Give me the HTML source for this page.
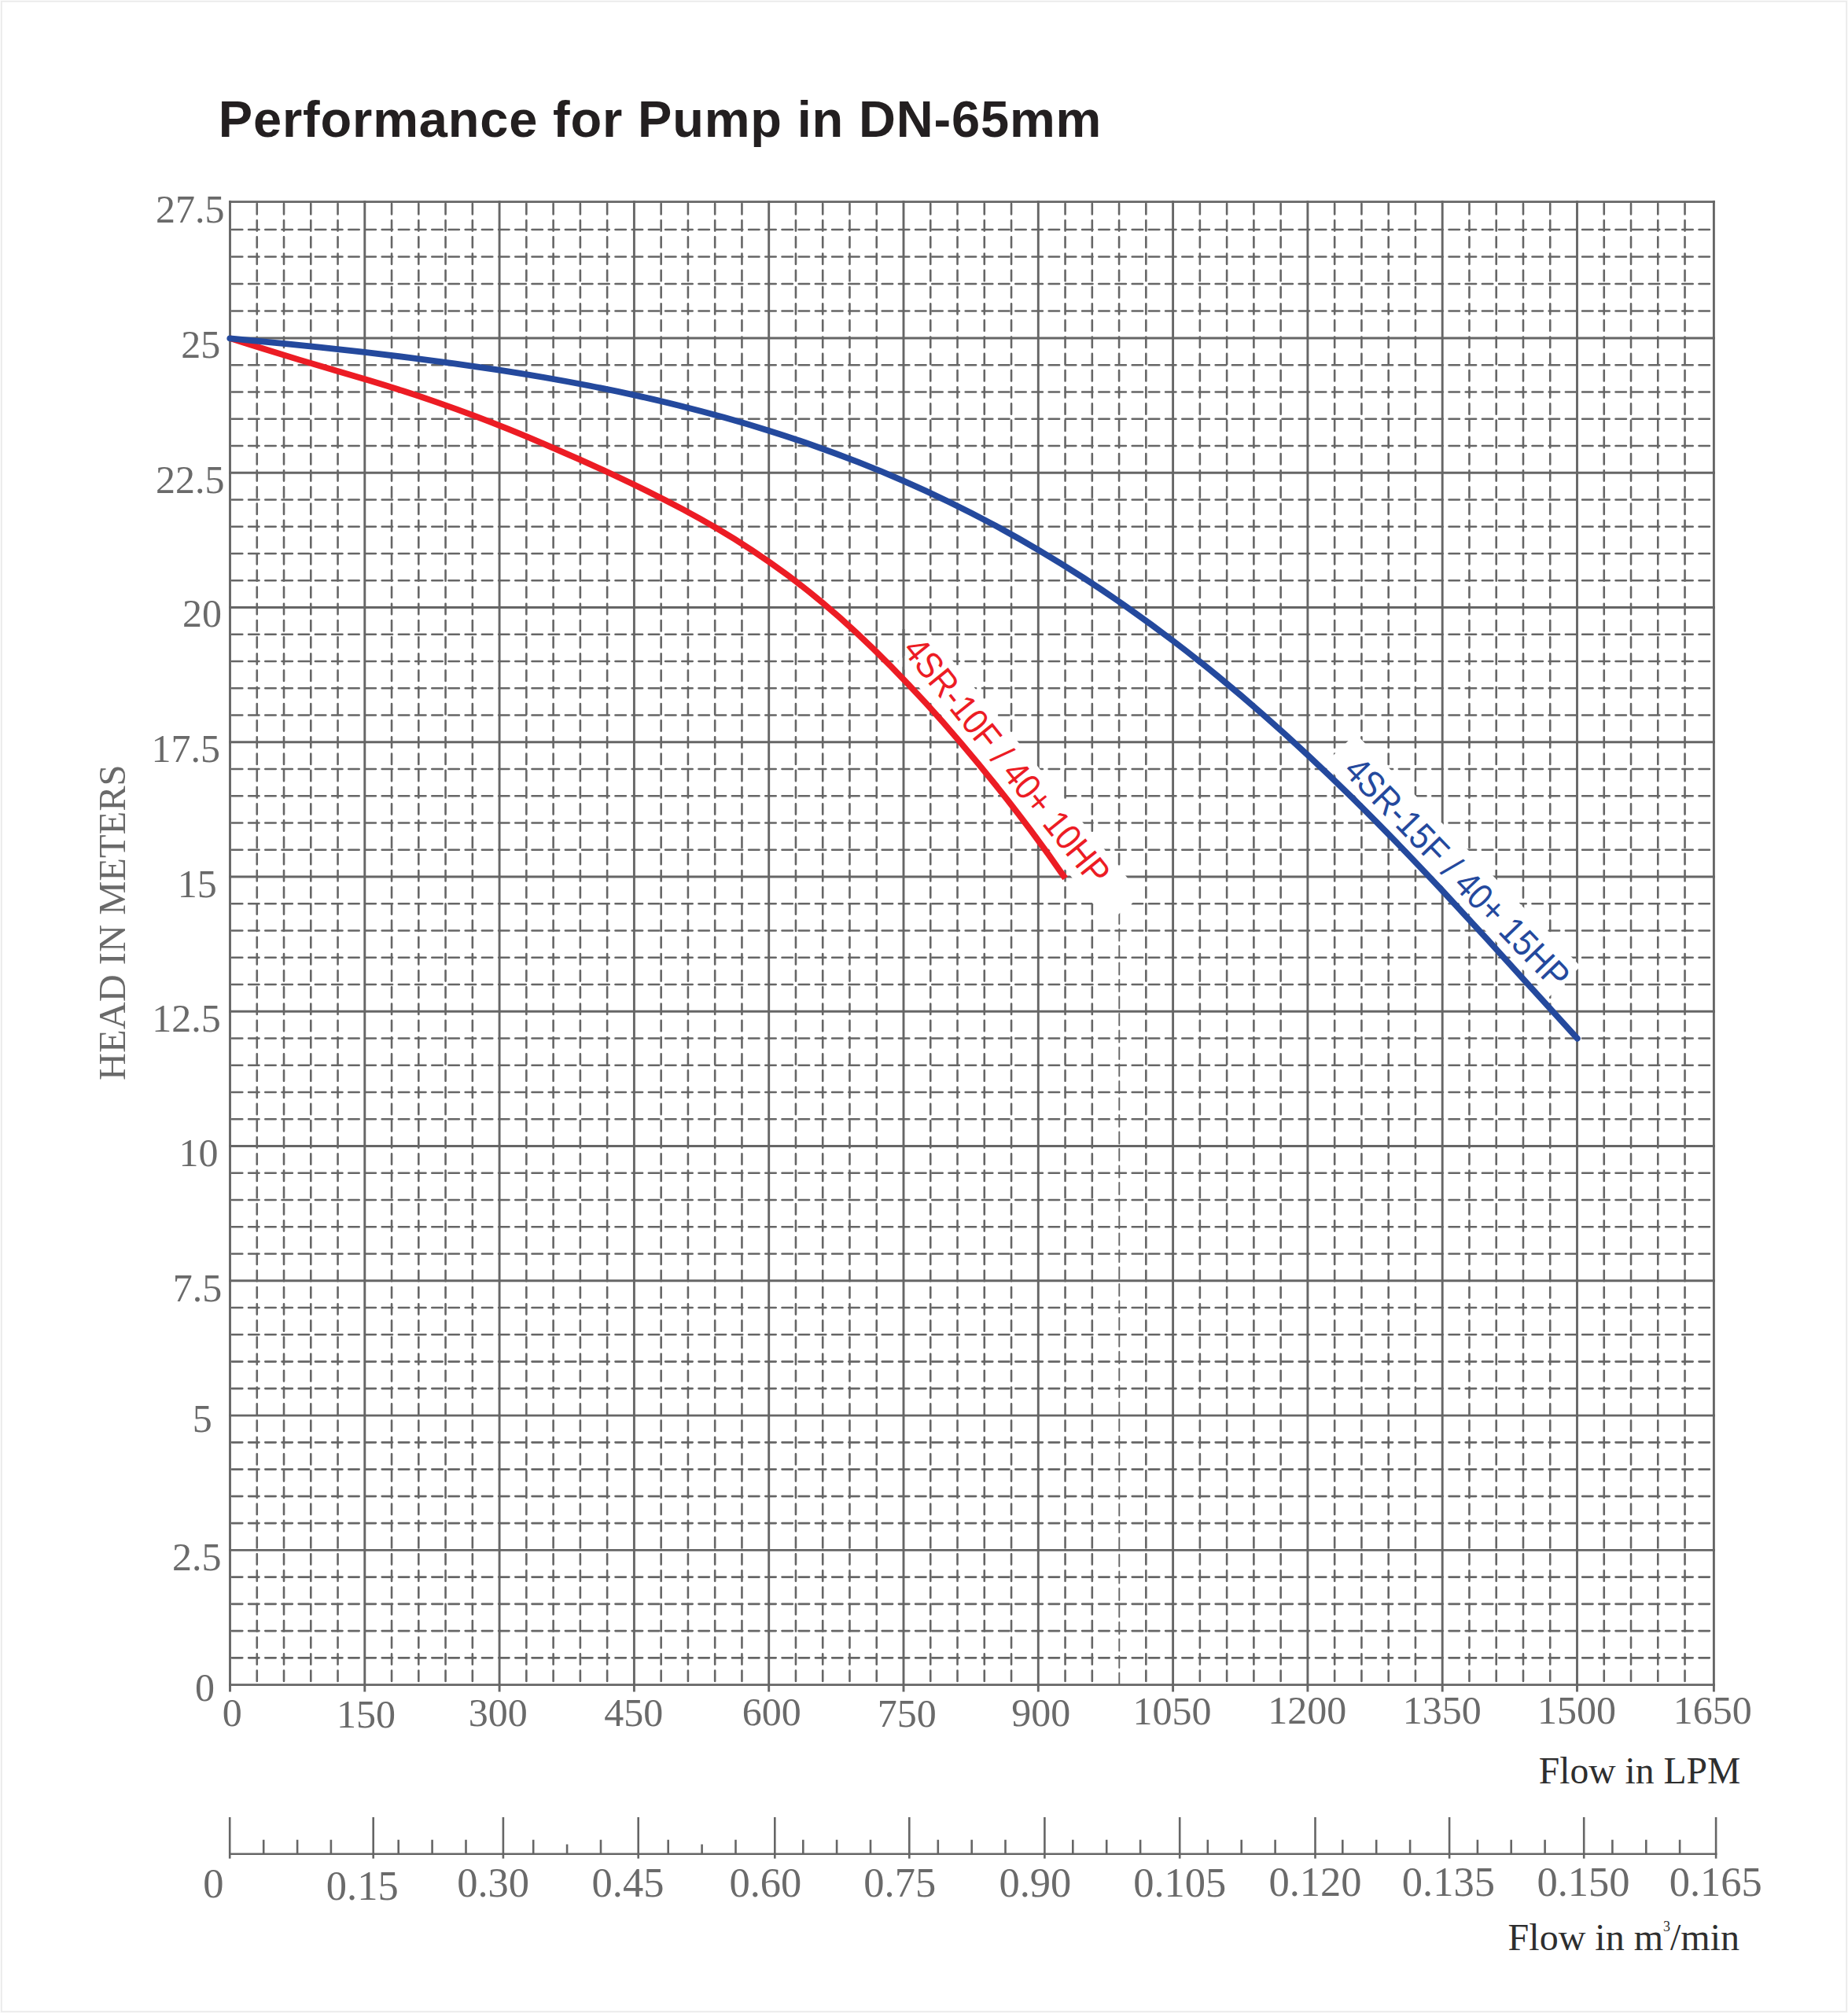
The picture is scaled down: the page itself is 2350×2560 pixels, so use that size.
<!DOCTYPE html>
<html><head><meta charset="utf-8"><title>Performance for Pump in DN-65mm</title>
<style>html,body{margin:0;padding:0;background:#fff}svg{display:block}</style></head>
<body>
<svg xmlns="http://www.w3.org/2000/svg" width="2350" height="2560" viewBox="0 0 2350 2560">
<rect x="0" y="0" width="2350" height="2560" fill="#fbfbfb"/>
<rect x="1.9" y="1.8" width="2346.2" height="2556.4" fill="#ffffff" stroke="#ebebeb" stroke-width="1.8"/>
<text id="title" x="277.8" y="173.8" font-family="Liberation Sans, sans-serif" font-weight="700" font-size="65" fill="#231f20" textLength="1122.5" lengthAdjust="spacing">Performance for Pump in DN-65mm</text>
<g stroke="#666666" stroke-width="2.6" stroke-dasharray="13.4 7.8" stroke-linecap="round" fill="none">
<path d="M326.76 259.00V2142.60"/>
<path d="M361.02 259.00V2142.60"/>
<path d="M395.28 259.00V2142.60"/>
<path d="M429.54 259.00V2142.60"/>
<path d="M498.06 259.00V2142.60"/>
<path d="M532.32 259.00V2142.60"/>
<path d="M566.58 259.00V2142.60"/>
<path d="M600.84 259.00V2142.60"/>
<path d="M669.36 259.00V2142.60"/>
<path d="M703.62 259.00V2142.60"/>
<path d="M737.88 259.00V2142.60"/>
<path d="M772.14 259.00V2142.60"/>
<path d="M840.66 259.00V2142.60"/>
<path d="M874.92 259.00V2142.60"/>
<path d="M909.18 259.00V2142.60"/>
<path d="M943.44 259.00V2142.60"/>
<path d="M1011.96 259.00V2142.60"/>
<path d="M1046.22 259.00V2142.60"/>
<path d="M1080.48 259.00V2142.60"/>
<path d="M1114.74 259.00V2142.60"/>
<path d="M1183.26 259.00V2142.60"/>
<path d="M1217.52 259.00V2142.60"/>
<path d="M1251.78 259.00V2142.60"/>
<path d="M1286.04 259.00V2142.60"/>
<path d="M1354.56 259.00V2142.60"/>
<path d="M1388.82 259.00V2142.60"/>
<path d="M1423.08 259.00V1110"/>
<path d="M1457.34 259.00V2142.60"/>
<path d="M1525.86 259.00V2142.60"/>
<path d="M1560.12 259.00V2142.60"/>
<path d="M1594.38 259.00V2142.60"/>
<path d="M1628.64 259.00V2142.60"/>
<path d="M1697.16 259.00V2142.60"/>
<path d="M1731.42 259.00V2142.60"/>
<path d="M1765.68 259.00V2142.60"/>
<path d="M1799.94 259.00V2142.60"/>
<path d="M1868.46 259.00V2142.60"/>
<path d="M1902.72 259.00V2142.60"/>
<path d="M1936.98 259.00V2142.60"/>
<path d="M1971.24 259.00V2142.60"/>
<path d="M2039.76 259.00V2142.60"/>
<path d="M2074.02 259.00V2142.60"/>
<path d="M2108.28 259.00V2142.60"/>
<path d="M2142.54 259.00V2142.60"/>
<path d="M294.90 395.50H2179.40"/>
<path d="M294.90 361.00H2179.40"/>
<path d="M294.90 326.50H2179.40"/>
<path d="M294.90 292.00H2179.40"/>
<path d="M294.90 464.25H2179.40"/>
<path d="M294.90 498.50H2179.40"/>
<path d="M294.90 532.76H2179.40"/>
<path d="M294.90 567.01H2179.40"/>
<path d="M294.90 635.51H2179.40"/>
<path d="M294.90 669.76H2179.40"/>
<path d="M294.90 704.02H2179.40"/>
<path d="M294.90 738.27H2179.40"/>
<path d="M294.90 806.77H2179.40"/>
<path d="M294.90 841.02H2179.40"/>
<path d="M294.90 875.28H2179.40"/>
<path d="M294.90 909.53H2179.40"/>
<path d="M294.90 978.03H2179.40"/>
<path d="M294.90 1012.28H2179.40"/>
<path d="M294.90 1046.54H2179.40"/>
<path d="M294.90 1080.79H2179.40"/>
<path d="M294.90 1149.29H2179.40"/>
<path d="M294.90 1183.54H2179.40"/>
<path d="M294.90 1217.80H2179.40"/>
<path d="M294.90 1252.05H2179.40"/>
<path d="M294.90 1320.55H2179.40"/>
<path d="M294.90 1354.80H2179.40"/>
<path d="M294.90 1389.06H2179.40"/>
<path d="M294.90 1423.31H2179.40"/>
<path d="M294.90 1491.81H2179.40"/>
<path d="M294.90 1526.06H2179.40"/>
<path d="M294.90 1560.32H2179.40"/>
<path d="M294.90 1594.57H2179.40"/>
<path d="M294.90 1663.07H2179.40"/>
<path d="M294.90 1697.32H2179.40"/>
<path d="M294.90 1731.58H2179.40"/>
<path d="M294.90 1765.83H2179.40"/>
<path d="M294.90 1834.33H2179.40"/>
<path d="M294.90 1868.58H2179.40"/>
<path d="M294.90 1902.84H2179.40"/>
<path d="M294.90 1937.09H2179.40"/>
<path d="M294.90 2005.59H2179.40"/>
<path d="M294.90 2039.84H2179.40"/>
<path d="M294.90 2074.10H2179.40"/>
<path d="M294.90 2108.35H2179.40"/>
</g>
<path d="M1423.3 1160V2142.60" stroke="#666666" stroke-width="1.9" stroke-dasharray="15 6.5" stroke-linecap="round" fill="none"/>
<g stroke="#666666" stroke-width="2.9" fill="none" stroke-linecap="butt">
<path d="M292.50 255.15V2151.60"/>
<path d="M463.80 255.15V2151.60"/>
<path d="M635.10 255.15V2151.60"/>
<path d="M806.40 255.15V2151.60"/>
<path d="M977.70 255.15V2151.60"/>
<path d="M1149.00 255.15V2151.60"/>
<path d="M1320.30 255.15V2151.60"/>
<path d="M1491.60 255.15V2151.60"/>
<path d="M1662.90 255.15V2151.60"/>
<path d="M1834.20 255.15V2151.60"/>
<path d="M2005.50 255.15V2151.60"/>
<path d="M2179.40 255.15V2151.60"/>
<path d="M291.05 256.60H2180.85"/>
<path d="M291.05 430.00H2180.85"/>
<path d="M291.05 601.26H2180.85"/>
<path d="M291.05 772.52H2180.85"/>
<path d="M291.05 943.78H2180.85"/>
<path d="M291.05 1115.04H2180.85"/>
<path d="M291.05 1286.30H2180.85"/>
<path d="M291.05 1457.56H2180.85"/>
<path d="M291.05 1628.82H2180.85"/>
<path d="M291.05 1800.08H2180.85"/>
<path d="M291.05 1971.34H2180.85"/>
<path d="M291.05 2142.60H2180.85"/>
</g>
<rect transform="translate(1256.55 963.6) rotate(51.2)" x="-167.4" y="-42.2" width="426.4" height="54.7" fill="#ffffff"/>
<rect transform="translate(1828.85 1107.85) rotate(46.0)" x="-198.6" y="-46.0" width="411.6" height="55.5" fill="#ffffff"/>
<path d="M1149.00 800V872" stroke="#666666" stroke-width="2.9" fill="none"/>
<path id="redc" d="M292.30 430.14C307.05 434.77 321.81 439.44 336.56 444.05C351.32 448.65 366.07 453.19 380.82 457.63C395.58 462.07 410.33 466.43 425.09 470.76C439.84 475.09 454.60 479.42 469.35 483.86C484.10 488.29 498.86 492.84 513.61 497.56C528.37 502.29 543.12 507.21 557.88 512.34C572.63 517.47 587.38 522.82 602.14 528.40C616.89 533.97 631.65 539.75 646.40 545.72C661.15 551.68 675.91 557.81 690.66 564.09C705.42 570.37 720.17 576.78 734.92 583.34C749.68 589.90 764.43 596.60 779.19 603.48C793.94 610.36 808.70 617.42 823.45 624.71C838.20 632.01 852.96 639.54 867.71 647.41C882.47 655.28 897.22 663.49 911.97 672.16C926.73 680.82 941.48 689.96 956.24 699.68C970.99 709.40 985.75 719.70 1000.50 730.66C1015.25 741.63 1030.01 753.25 1044.76 765.56C1059.52 777.88 1074.27 790.89 1089.02 804.58C1103.78 818.27 1118.53 832.64 1133.29 847.65C1148.04 862.66 1162.80 878.29 1177.55 894.48C1192.30 910.67 1207.06 927.42 1221.81 944.70C1236.57 961.99 1251.32 979.82 1266.07 998.25C1280.83 1016.68 1295.58 1035.70 1310.34 1055.44C1325.09 1075.19 1339.85 1095.65 1354.60 1117.01" fill="none" stroke="#ec1c24" stroke-width="7.8" stroke-linecap="butt"/>
<path id="bluec" d="M292.30 430.31C311.34 432.13 330.38 433.97 349.42 435.86C368.46 437.76 387.49 439.69 406.53 441.70C425.57 443.71 444.61 445.78 463.65 447.95C482.69 450.12 501.73 452.38 520.77 454.76C539.81 457.13 558.84 459.63 577.88 462.26C596.92 464.90 615.96 467.67 635.00 470.62C654.04 473.56 673.08 476.67 692.12 479.98C711.16 483.28 730.19 486.78 749.23 490.51C768.27 494.23 787.31 498.17 806.35 502.37C825.39 506.57 844.43 511.01 863.47 515.74C882.51 520.47 901.54 525.48 920.58 530.80C939.62 536.12 958.66 541.75 977.70 547.72C996.74 553.69 1015.78 560.01 1034.82 566.70C1053.86 573.39 1072.89 580.46 1091.93 587.93C1110.97 595.41 1130.01 603.29 1149.05 611.62C1168.09 619.94 1187.13 628.71 1206.17 637.96C1225.21 647.20 1244.24 656.92 1263.28 667.14C1282.32 677.36 1301.36 688.09 1320.40 699.33C1339.44 710.58 1358.48 722.34 1377.52 734.65C1396.56 746.95 1415.59 759.80 1434.63 773.19C1453.67 786.58 1472.71 800.52 1491.75 815.01C1510.79 829.50 1529.83 844.55 1548.87 860.14C1567.91 875.74 1586.94 891.89 1605.98 908.58C1625.02 925.27 1644.06 942.51 1663.10 960.28C1682.14 978.05 1701.18 996.35 1720.22 1015.14C1739.26 1033.92 1758.29 1053.20 1777.33 1072.87C1796.37 1092.55 1815.41 1112.64 1834.45 1133.03C1853.49 1153.42 1872.53 1174.11 1891.57 1194.96C1910.61 1215.81 1929.64 1236.82 1948.68 1257.83C1967.72 1278.83 1986.76 1299.83 2005.80 1320.61" fill="none" stroke="#24499d" stroke-width="7.8" stroke-linecap="round"/>
<text transform="translate(1256.55 963.6) rotate(51.2) scale(0.8956 1)" x="-195.96" y="0" font-family="Liberation Sans, sans-serif" font-size="46.5" fill="#ec1c24">4SR-10F / 40+ 10HP</text>
<text transform="translate(1828.85 1107.85) rotate(46.0) scale(0.8956 1)" x="-195.96" y="0" font-family="Liberation Sans, sans-serif" font-size="46.5" fill="#24499d">4SR-15F / 40+ 15HP</text>
<text id="y27_5" x="241.65" y="282.60" font-family="Liberation Serif, serif" font-size="50" text-anchor="middle" fill="#6a6a6a">27.5</text>
<text id="y25" x="255.25" y="454.80" font-family="Liberation Serif, serif" font-size="50" text-anchor="middle" fill="#6a6a6a">25</text>
<text id="y22_5" x="241.65" y="626.80" font-family="Liberation Serif, serif" font-size="50" text-anchor="middle" fill="#6a6a6a">22.5</text>
<text id="y20" x="257.10" y="797.20" font-family="Liberation Serif, serif" font-size="50" text-anchor="middle" fill="#6a6a6a">20</text>
<text id="y17_5" x="236.15" y="969.20" font-family="Liberation Serif, serif" font-size="50" text-anchor="middle" fill="#6a6a6a">17.5</text>
<text id="y15" x="250.85" y="1140.80" font-family="Liberation Serif, serif" font-size="50" text-anchor="middle" fill="#6a6a6a">15</text>
<text id="y12_5" x="237.00" y="1311.60" font-family="Liberation Serif, serif" font-size="50" text-anchor="middle" fill="#6a6a6a">12.5</text>
<text id="y10" x="252.45" y="1483.00" font-family="Liberation Serif, serif" font-size="50" text-anchor="middle" fill="#6a6a6a">10</text>
<text id="y7_5" x="250.95" y="1654.60" font-family="Liberation Serif, serif" font-size="50" text-anchor="middle" fill="#6a6a6a">7.5</text>
<text id="y5" x="257.30" y="1820.80" font-family="Liberation Serif, serif" font-size="50" text-anchor="middle" fill="#6a6a6a">5</text>
<text id="y2_5" x="250.15" y="1996.60" font-family="Liberation Serif, serif" font-size="50" text-anchor="middle" fill="#6a6a6a">2.5</text>
<text id="y0" x="260.60" y="2162.80" font-family="Liberation Serif, serif" font-size="50" text-anchor="middle" fill="#6a6a6a">0</text>
<text id="x0" x="295.20" y="2194.60" font-family="Liberation Serif, serif" font-size="50" text-anchor="middle" fill="#6a6a6a">0</text>
<text id="x150" x="465.60" y="2197.00" font-family="Liberation Serif, serif" font-size="50" text-anchor="middle" fill="#6a6a6a">150</text>
<text id="x300" x="633.30" y="2194.60" font-family="Liberation Serif, serif" font-size="50" text-anchor="middle" fill="#6a6a6a">300</text>
<text id="x450" x="805.80" y="2194.60" font-family="Liberation Serif, serif" font-size="50" text-anchor="middle" fill="#6a6a6a">450</text>
<text id="x600" x="981.20" y="2194.00" font-family="Liberation Serif, serif" font-size="50" text-anchor="middle" fill="#6a6a6a">600</text>
<text id="x750" x="1153.20" y="2195.60" font-family="Liberation Serif, serif" font-size="50" text-anchor="middle" fill="#6a6a6a">750</text>
<text id="x900" x="1323.70" y="2194.60" font-family="Liberation Serif, serif" font-size="50" text-anchor="middle" fill="#6a6a6a">900</text>
<text id="x1050" x="1490.60" y="2192.60" font-family="Liberation Serif, serif" font-size="50" text-anchor="middle" fill="#6a6a6a">1050</text>
<text id="x1200" x="1662.30" y="2192.00" font-family="Liberation Serif, serif" font-size="50" text-anchor="middle" fill="#6a6a6a">1200</text>
<text id="x1350" x="1833.70" y="2192.00" font-family="Liberation Serif, serif" font-size="50" text-anchor="middle" fill="#6a6a6a">1350</text>
<text id="x1500" x="2005.10" y="2192.00" font-family="Liberation Serif, serif" font-size="50" text-anchor="middle" fill="#6a6a6a">1500</text>
<text id="x1650" x="2177.80" y="2192.00" font-family="Liberation Serif, serif" font-size="50" text-anchor="middle" fill="#6a6a6a">1650</text>
<text id="flowlpm" x="2085.10" y="2267.80" font-family="Liberation Serif, serif" font-size="47.6" text-anchor="middle" fill="#2e2e2e">Flow in LPM</text>
<g stroke="#666666" stroke-width="2.6" fill="none">
<path d="M291 2357.8H2183.4"/>
<path d="M292.2 2311V2363.6"/>
<path d="M474.7 2311V2363.6"/>
<path d="M639.9 2311V2363.6"/>
<path d="M811.7 2311V2363.6"/>
<path d="M985.3 2311V2363.6"/>
<path d="M1156.3 2311V2363.6"/>
<path d="M1328.4 2311V2363.6"/>
<path d="M1500.2 2311V2363.6"/>
<path d="M1672.5 2311V2363.6"/>
<path d="M1843.1 2311V2363.6"/>
<path d="M2014.2 2311V2363.6"/>
<path d="M2182.1 2311V2363.6"/>
<path d="M335.2 2339.7V2357.8"/>
<path d="M378.1 2339.7V2357.8"/>
<path d="M420.9 2339.7V2357.8"/>
<path d="M506.7 2339.7V2357.8"/>
<path d="M549.6 2339.7V2357.8"/>
<path d="M592.5 2339.7V2357.8"/>
<path d="M678.2 2339.7V2357.8"/>
<path d="M721.1 2345.5V2357.8"/>
<path d="M764.0 2339.7V2357.8"/>
<path d="M849.7 2339.7V2357.8"/>
<path d="M892.6 2345.5V2357.8"/>
<path d="M935.5 2339.7V2357.8"/>
<path d="M1021.3 2339.7V2357.8"/>
<path d="M1064.1 2339.7V2357.8"/>
<path d="M1107.0 2339.7V2357.8"/>
<path d="M1192.8 2339.7V2357.8"/>
<path d="M1235.7 2339.7V2357.8"/>
<path d="M1278.5 2339.7V2357.8"/>
<path d="M1364.3 2339.7V2357.8"/>
<path d="M1407.2 2339.7V2357.8"/>
<path d="M1450.1 2339.7V2357.8"/>
<path d="M1535.8 2339.7V2357.8"/>
<path d="M1578.7 2339.7V2357.8"/>
<path d="M1621.6 2339.7V2357.8"/>
<path d="M1707.3 2339.7V2357.8"/>
<path d="M1750.2 2339.7V2357.8"/>
<path d="M1793.1 2339.7V2357.8"/>
<path d="M1878.9 2339.7V2357.8"/>
<path d="M1921.7 2339.7V2357.8"/>
<path d="M1964.6 2339.7V2357.8"/>
<path d="M2050.4 2339.7V2357.8"/>
<path d="M2093.3 2339.7V2357.8"/>
<path d="M2136.1 2339.7V2357.8"/>
</g>
<text id="s0" x="271.30" y="2412.60" font-family="Liberation Serif, serif" font-size="52.5" text-anchor="middle" fill="#6a6a6a">0</text>
<text id="s0_15" x="460.80" y="2415.80" font-family="Liberation Serif, serif" font-size="52.5" text-anchor="middle" fill="#6a6a6a">0.15</text>
<text id="s0_30" x="627.10" y="2411.80" font-family="Liberation Serif, serif" font-size="52.5" text-anchor="middle" fill="#6a6a6a">0.30</text>
<text id="s0_45" x="798.50" y="2411.80" font-family="Liberation Serif, serif" font-size="52.5" text-anchor="middle" fill="#6a6a6a">0.45</text>
<text id="s0_60" x="973.40" y="2411.80" font-family="Liberation Serif, serif" font-size="52.5" text-anchor="middle" fill="#6a6a6a">0.60</text>
<text id="s0_75" x="1144.30" y="2411.80" font-family="Liberation Serif, serif" font-size="52.5" text-anchor="middle" fill="#6a6a6a">0.75</text>
<text id="s0_90" x="1316.40" y="2411.80" font-family="Liberation Serif, serif" font-size="52.5" text-anchor="middle" fill="#6a6a6a">0.90</text>
<text id="s0_105" x="1500.20" y="2411.80" font-family="Liberation Serif, serif" font-size="52.5" text-anchor="middle" fill="#6a6a6a">0.105</text>
<text id="s0_120" x="1672.50" y="2411.20" font-family="Liberation Serif, serif" font-size="52.5" text-anchor="middle" fill="#6a6a6a">0.120</text>
<text id="s0_135" x="1841.90" y="2411.20" font-family="Liberation Serif, serif" font-size="52.5" text-anchor="middle" fill="#6a6a6a">0.135</text>
<text id="s0_150" x="2013.50" y="2411.20" font-family="Liberation Serif, serif" font-size="52.5" text-anchor="middle" fill="#6a6a6a">0.150</text>
<text id="s0_165" x="2181.80" y="2411.20" font-family="Liberation Serif, serif" font-size="52.5" text-anchor="middle" fill="#6a6a6a">0.165</text>
<text x="2212" y="2479.6" font-family="Liberation Serif, serif" font-size="48" text-anchor="end" fill="#2e2e2e">Flow in m<tspan font-size="18" dy="-23.6">3</tspan><tspan dy="23.6">/min</tspan></text>
<text transform="translate(158.6 1374) rotate(-90)" font-family="Liberation Serif, serif" font-size="48.5" fill="#6a6a6a">HEAD IN METERS</text>
</svg>
</body></html>
